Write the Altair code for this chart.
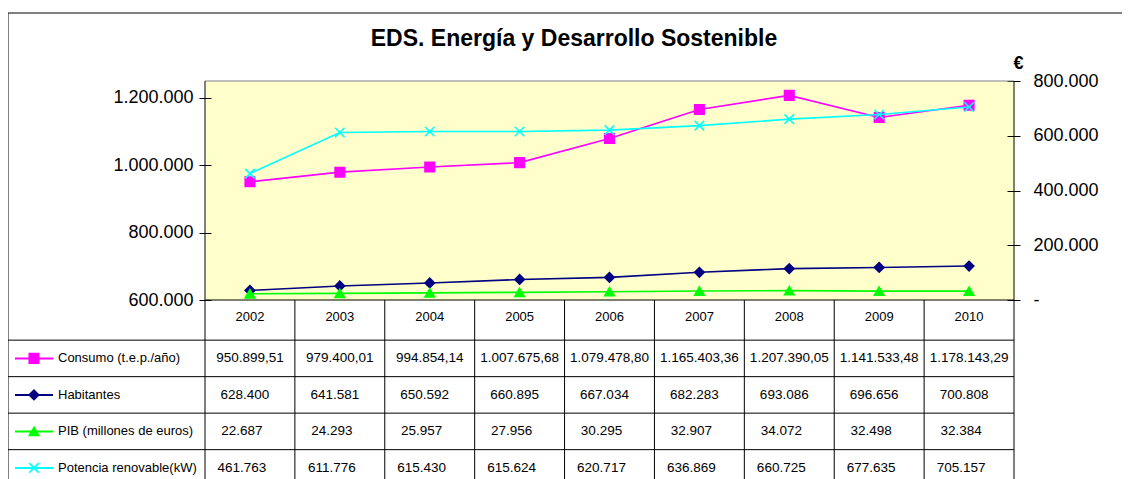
import altair as alt
import pandas as pd

# ---------------- data ----------------
years = ["2002", "2003", "2004", "2005", "2006", "2007", "2008", "2009", "2010"]
series_names = [
    "Consumo (t.e.p./año)",
    "Habitantes",
    "PIB (millones de euros)",
    "Potencia renovable(kW)",
]
consumo = [950899.51, 979400.01, 994854.14, 1007675.68, 1079478.80,
           1165403.36, 1207390.05, 1141533.48, 1178143.29]
habitantes = [628400, 641581, 650592, 660895, 667034, 682283, 693086, 696656, 700808]
pib = [22687, 24293, 25957, 27956, 30295, 32907, 34072, 32498, 32384]
potencia = [461763, 611776, 615430, 615624, 620717, 636869, 660725, 677635, 705157]
decimals = [2, 0, 0, 0]
side = ["L", "L", "R", "R"]          # which value axis each series uses
left_ticks = [600000, 800000, 1000000, 1200000]
right_ticks = [0, 200000, 400000, 600000, 800000]
title_text = "EDS. Energía y Desarrollo Sostenible"
right_axis_title = "€"

# ---------------- styles ----------------
colors = ["#FF00FF", "#000080", "#00FF00", "#00FFFF"]
X_PATH = "M-1,-1L1,1M1,-1L-1,1"
shapes = ["square", "diamond", "triangle-up", X_PATH]
text_dx = [0, -5, -8, -8]
FONT = "Liberation Sans"

# ---------------- layout ----------------
PLOT_W, PLOT_H = 809, 219
NCOL = len(years)
COL_W = PLOT_W / NCOL
ROW_UNIT = 36.5


def col(px):
    """pixel offset from plot left -> column units"""
    return px / COL_W


def row(px):
    """pixel offset from plot top -> table row units"""
    return (px - PLOT_H) / ROW_UNIT


LEFT_EDGE = col(-197)
PLOT_TOP = row(0)
FRAME_TOP = row(-68)
TABLE_BOTTOM = 6.0
HEADER_H = 1.1


def fmt(v, dec):
    s = f"{v:,.{dec}f}"
    return s.replace(",", "X").replace(".", ",").replace("X", ".")


values = [consumo, habitantes, pib, potencia]
recs = []
for si, name in enumerate(series_names):
    for yi, y in enumerate(years):
        recs.append({
            "series": name,
            "year": y,
            "pos": yi + 0.5,
            "value": values[si][yi],
            "side": side[si],
            "trow": HEADER_H + si + 0.5,
            "label": fmt(values[si][yi], decimals[si]),
            "sidx": si,
        })
df = pd.DataFrame(recs)

# scales
xs = alt.Scale(domain=[0, NCOL], nice=False, zero=False)
ys_left = alt.Scale(domain=[600000, 1250000], nice=False, zero=False)
ys_right = alt.Scale(domain=[0, 800000], nice=False, zero=False)
ys_tab = alt.Scale(domain=[0, 1], range=[PLOT_H, PLOT_H + ROW_UNIT], nice=False, zero=False)
color_sc = alt.Scale(domain=series_names, range=colors)
shape_sc = alt.Scale(domain=series_names, range=shapes)

X = alt.X("pos:Q", scale=xs, axis=None)

axis_left = alt.Axis(
    orient="left", values=left_ticks, format=",.0f", offset=-6, tickSize=12,
    domain=False, grid=False, labelPadding=6, labelFontSize=18, labelFont=FONT,
    labelColor="black", tickColor="black", tickWidth=1, title=None,
)
axis_right = alt.Axis(
    orient="right", values=right_ticks, format=",.0f",
    labelExpr="datum.value == 0 ? '-' : datum.label",
    offset=-7, tickSize=13, labelPadding=13, domain=False, grid=False,
    labelFontSize=18, labelFont=FONT, labelColor="black", tickColor="black", tickWidth=1,
    title=right_axis_title, titleAngle=0, titleAlign="left", titleBaseline="alphabetic",
    titleX=6, titleY=-13, titleFontSize=18, titleFontWeight="bold", titleFont=FONT,
    titleColor="black",
)


def series_layer(sd, yscale, axis):
    base = alt.Chart(df[df["side"] == sd])
    line = base.mark_line(strokeWidth=1.6).encode(
        x=X,
        y=alt.Y("value:Q", scale=yscale, axis=axis),
        color=alt.Color("series:N", scale=color_sc, legend=None),
    )
    pts = base.mark_point(filled=True, size=90, strokeWidth=1.6, opacity=1).encode(
        x=X,
        y=alt.Y("value:Q", scale=yscale, axis=axis),
        fill=alt.Fill("series:N", scale=color_sc, legend=None),
        stroke=alt.Stroke("series:N", scale=color_sc, legend=None),
        shape=alt.Shape("series:N", scale=shape_sc, legend=None),
    )
    return alt.layer(line, pts)


left = series_layer("L", ys_left, axis_left)
right = series_layer("R", ys_right, axis_right)

# ---------------- table ----------------
grid = []
row_lines = [0.0] + [HEADER_H + i for i in range(len(series_names))]
for i, yv in enumerate(row_lines):
    grid.append({"x": 0.0 if i == 0 else LEFT_EDGE, "x2": float(NCOL), "y": yv, "y2": yv})
for c in range(NCOL + 1):
    top = PLOT_TOP if c in (0, NCOL) else 0.0
    grid.append({"x": float(c), "x2": float(c), "y": top, "y2": TABLE_BOTTOM})
grid.append({"x": LEFT_EDGE, "x2": LEFT_EDGE, "y": FRAME_TOP, "y2": TABLE_BOTTOM})
grid.append({"x": LEFT_EDGE, "x2": col(1000), "y": FRAME_TOP, "y2": FRAME_TOP})
grid_df = pd.DataFrame(grid)

TY = alt.Y("y:Q", scale=ys_tab, axis=None)

rules = alt.Chart(grid_df).mark_rule(color="black", strokeWidth=1).encode(
    x=alt.X("x:Q", scale=xs, axis=None), x2="x2:Q", y=TY, y2="y2:Q"
)
top_gray = alt.Chart(pd.DataFrame({"x": [0.0], "x2": [float(NCOL)], "y": [PLOT_TOP]})).mark_rule(
    color="#808080", strokeWidth=1
).encode(x=alt.X("x:Q", scale=xs, axis=None), x2="x2:Q", y=TY)

year_df = pd.DataFrame({"year": years, "pos": [i + 0.5 for i in range(NCOL)], "y": [0.47] * NCOL})
year_text = alt.Chart(year_df).mark_text(
    font=FONT, fontSize=13, color="black", align="center", baseline="middle"
).encode(x=X, y=TY, text="year:N")

value_layers = []
for si, name in enumerate(series_names):
    sub = df[df["series"] == name].rename(columns={"trow": "y"})
    value_layers.append(
        alt.Chart(sub).mark_text(
            font=FONT, fontSize=13.5, color="black", align="center", baseline="middle", dx=text_dx[si]
        ).encode(x=X, y=TY, text="label:N")
    )

leg_df = pd.DataFrame({
    "series": series_names,
    "y": [HEADER_H + i + 0.5 for i in range(len(series_names))],
    "x1": [col(15 - 205)] * len(series_names),
    "x2": [col(53 - 205)] * len(series_names),
    "xm": [col(34 - 205)] * len(series_names),
    "xt": [col(58 - 205)] * len(series_names),
})
leg_line = alt.Chart(leg_df).mark_rule(strokeWidth=2).encode(
    x=alt.X("x1:Q", scale=xs, axis=None), x2="x2:Q", y=TY,
    color=alt.Color("series:N", scale=color_sc, legend=None),
)
leg_pts = alt.Chart(leg_df).mark_point(filled=True, size=90, strokeWidth=1.6, opacity=1).encode(
    x=alt.X("xm:Q", scale=xs, axis=None), y=TY,
    fill=alt.Fill("series:N", scale=color_sc, legend=None),
    stroke=alt.Stroke("series:N", scale=color_sc, legend=None),
    shape=alt.Shape("series:N", scale=shape_sc, legend=None),
)
leg_text = alt.Chart(leg_df).mark_text(
    font=FONT, fontSize=13, color="black", align="left", baseline="middle"
).encode(x=alt.X("xt:Q", scale=xs, axis=None), y=TY, text="series:N")

table = alt.layer(top_gray, rules, year_text, *value_layers, leg_line, leg_pts, leg_text)

chart = (
    alt.layer(table, left, right)
    .resolve_scale(y="independent")
    .properties(
        width=PLOT_W,
        height=PLOT_H,
        title=alt.TitleParams(
            text=title_text, font=FONT, fontSize=23, fontWeight="bold", color="black",
            anchor="middle", frame="group", dx=-35.5, offset=-56, baseline="alphabetic",
        ),
        padding={"left": 197, "top": 73, "right": 108, "bottom": 179},
        autosize=alt.AutoSizeParams(type="none"),
        background="white",
    )
    .configure(
        locale=alt.Locale(number=alt.NumberLocale(
            decimal=",", thousands=".", grouping=[3], currency=["", "€"]))
    )
    .configure_view(fill="#FFFFCC", strokeOpacity=0)
)

chart.save("out.html", embed_options={"renderer": "svg", "actions": False})
